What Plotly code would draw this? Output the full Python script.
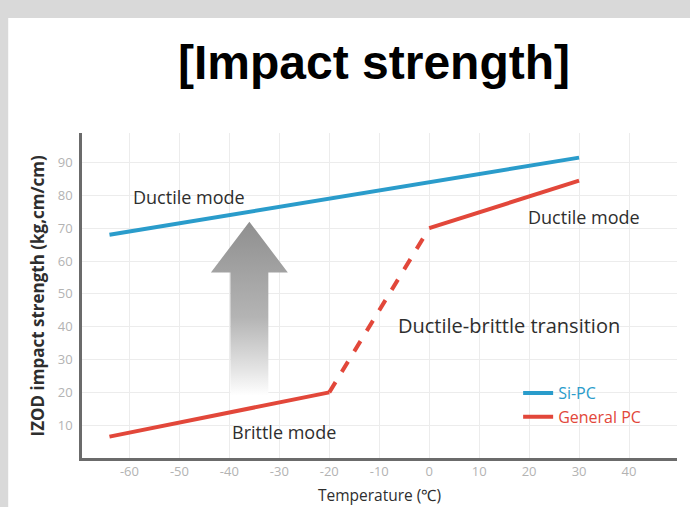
import plotly.graph_objects as go

# ---------------- data ----------------
si_temps = [-64, 30]
si_values = [68, 91.5]

gen_temps = [-64, -20, 0, 30]
gen_values = [6.5, 20, 70, 84.5]

x_ticks = [-60, -50, -40, -30, -20, -10, 0, 10, 20, 30, 40]
x_tick_labels = ["-60", "-50", "-40", "-30", "-20", "-10", "0", "10", "20", "30", "40"]
y_ticks = [10, 20, 30, 40, 50, 60, 70, 80, 90]

notes = [
    ("Ductile mode", -48, 79.5, 18),
    ("Ductile mode", 31, 73.5, 18),
    ("Ductile-brittle transition", 16, 40.5, 20),
    ("Brittle mode", -29, 8, 18),
]

# arrow (data units)
arrow_x = -36
arrow_tip = 72
arrow_head_base = 56.5
arrow_head_half = 7.7
arrow_shaft_half = 3.8
arrow_bottom = 19

BLUE = "#2a9ccb"
RED = "#e2473a"
FONT = "Open Sans"

fig = go.Figure()

# arrow
ax = [arrow_x, arrow_x + arrow_head_half, arrow_x + arrow_shaft_half, arrow_x + arrow_shaft_half,
      arrow_x - arrow_shaft_half, arrow_x - arrow_shaft_half, arrow_x - arrow_head_half, arrow_x]
ay = [arrow_tip, arrow_head_base, arrow_head_base, arrow_bottom,
      arrow_bottom, arrow_head_base, arrow_head_base, arrow_tip]
fig.add_trace(go.Scatter(
    x=ax, y=ay, mode="lines", line=dict(width=0, color="rgba(0,0,0,0)"),
    fill="toself",
    fillgradient=dict(type="vertical",
                      colorscale=[[0, "rgba(255,255,255,1)"], [0.15, "#e4e4e4"],
                                  [0.45, "#b4b4b4"], [1, "#8f8f8f"]]),
    showlegend=False, hoverinfo="skip"))

# Si-PC
fig.add_trace(go.Scatter(
    x=si_temps, y=si_values, mode="lines",
    line=dict(color=BLUE, width=4),
    name=f'<span style="color:{BLUE}">Si-PC</span>'))

# General PC (solid - dashed - solid)
fig.add_trace(go.Scatter(
    x=gen_temps[0:2], y=gen_values[0:2], mode="lines",
    line=dict(color=RED, width=4),
    name=f'<span style="color:{RED}">General PC</span>', legendgroup="gen"))
fig.add_trace(go.Scatter(
    x=gen_temps[1:3], y=gen_values[1:3], mode="lines",
    line=dict(color=RED, width=4, dash="dash"),
    showlegend=False, legendgroup="gen"))
fig.add_trace(go.Scatter(
    x=gen_temps[2:4], y=gen_values[2:4], mode="lines",
    line=dict(color=RED, width=4),
    showlegend=False, legendgroup="gen"))

for text, x, y, sz in notes:
    fig.add_annotation(x=x, y=y, text=text, showarrow=False,
                       font=dict(family=FONT, size=sz, color="#2e2e2e"))

# y axis title
fig.add_annotation(xref="paper", yref="paper", x=-0.074, y=0.5, xanchor="center", yanchor="middle",
                   text="<b>IZOD impact strength (kg,cm/cm)</b>", textangle=-90, showarrow=False,
                   font=dict(family=FONT, size=17, color="#2e2e2e"))
# x axis title
fig.add_annotation(xref="paper", yref="paper", x=0.5, y=-0.114, xanchor="center", yanchor="middle",
                   text="Temperature (℃)", showarrow=False,
                   font=dict(family=FONT, size=15.5, color="#2e2e2e"))

# title
fig.add_annotation(xref="paper", yref="paper", x=0.49, y=1.218, xanchor="center", yanchor="middle",
                   text="<b>[Impact strength]</b>", showarrow=False,
                   font=dict(family="Liberation Sans", size=48, color="#000000"))

# white panel
fig.add_shape(type="rect", xref="paper", yref="paper", x0=-0.124, x1=1.2, y0=-0.3, y1=1.354,
              fillcolor="white", line=dict(width=0), layer="below")

fig.update_layout(
    width=690, height=507,
    margin=dict(l=82, r=13, t=133, b=49),
    paper_bgcolor="#d9d9d9",
    plot_bgcolor="white",
    showlegend=True,
    legend=dict(x=0.733, y=0.252, xanchor="left", yanchor="top",
                bgcolor="rgba(0,0,0,0)", font=dict(family=FONT, size=16),
                itemwidth=30, tracegroupgap=0),
    xaxis=dict(range=[-69.5, 49.6], tickvals=x_ticks, ticktext=x_tick_labels,
               showgrid=True, gridcolor="#ececec",
               zeroline=False, showline=True, linecolor="#6b6b6b", linewidth=2.5,
               ticks="", tickfont=dict(family=FONT, size=13, color="#b3b3b3")),
    yaxis=dict(range=[0, 99], tickvals=y_ticks, showgrid=True, gridcolor="#ececec",
               zeroline=False, showline=True, linecolor="#6b6b6b", linewidth=2.5,
               ticks="", ticklabelstandoff=4, tickfont=dict(family=FONT, size=13, color="#b3b3b3")),
)

fig.write_html("out.html",
               config={"displayModeBar": False},
               post_script="document.body.style.margin='0';document.body.style.overflow='hidden';")
